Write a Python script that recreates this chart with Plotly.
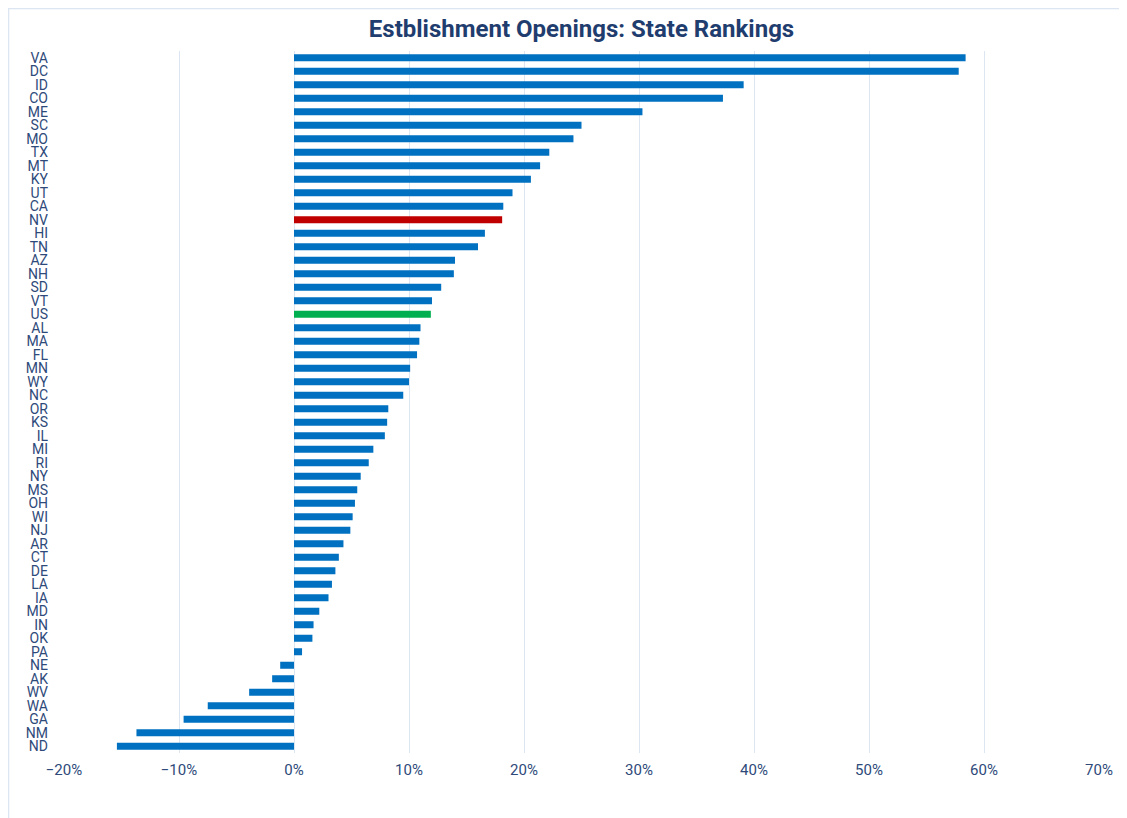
import plotly.graph_objects as go

states = ["VA","DC","ID","CO","ME","SC","MO","TX","MT","KY","UT","CA","NV","HI","TN","AZ","NH","SD","VT","US",
          "AL","MA","FL","MN","WY","NC","OR","KS","IL","MI","RI","NY","MS","OH","WI","NJ","AR","CT","DE","LA",
          "IA","MD","IN","OK","PA","NE","AK","WV","WA","GA","NM","ND"]
values = [58.4, 57.8, 39.1, 37.3, 30.3, 25.0, 24.3, 22.2, 21.4, 20.6, 19.0, 18.2, 18.1, 16.6, 16.0, 14.0, 13.9, 12.8, 12.0, 11.9,
          11.0, 10.9, 10.7, 10.1, 10.0, 9.5, 8.2, 8.1, 7.9, 6.9, 6.5, 5.8, 5.5, 5.3, 5.1, 4.9, 4.3, 3.9, 3.6, 3.3,
          3.0, 2.2, 1.7, 1.6, 0.7, -1.2, -1.9, -3.9, -7.5, -9.6, -13.7, -15.4]

highlight = {"NV": "#C00000", "US": "#00B050"}
colors = [highlight.get(s, "#0070C0") for s in states]

FONT = "Liberation Sans Narrow, Roboto, Lato, sans-serif"

fig = go.Figure(go.Bar(
    x=[v / 100 for v in values],
    y=states,
    orientation="h",
    marker=dict(color=colors, line=dict(width=0)),
    width=0.52,
))

fig.update_layout(
    width=1119, height=810,
    margin=dict(l=56, r=28, t=43, b=65, autoexpand=False),
    paper_bgcolor="white", plot_bgcolor="white",
    showlegend=False,
    title=dict(text="<b>Estblishment Openings: State Rankings</b>", x=0.5, xanchor="center",
               xref="paper", y=0.974, yref="container", yanchor="middle",
               font=dict(family=FONT, size=24, color="#1F3D6E")),
    xaxis=dict(range=[-0.2, 0.7], dtick=0.1, tick0=0, tickformat=".0%",
               showgrid=True, gridcolor="#DCE6F2", gridwidth=1, zeroline=False,
               showline=False, ticks="", automargin=False, ticklabelstandoff=6,
               tickfont=dict(family=FONT, size=15, color="#2E4A7A")),
    yaxis=dict(autorange="reversed", type="category", tickmode="linear", dtick=1, tick0=0,
               showgrid=False, zeroline=False, automargin=False,
               showline=False, ticks="", ticklabelstandoff=15,
               tickfont=dict(family=FONT, size=14, color="#2E4A7A")),
    shapes=[dict(type="rect", xref="paper", yref="paper",
                 x0=-0.0536, x1=1.2, y0=-0.3, y1=1.0605,
                 line=dict(color="#DCE6F2", width=1.5), fillcolor="rgba(0,0,0,0)")],
)

fig.write_html("out.html")
